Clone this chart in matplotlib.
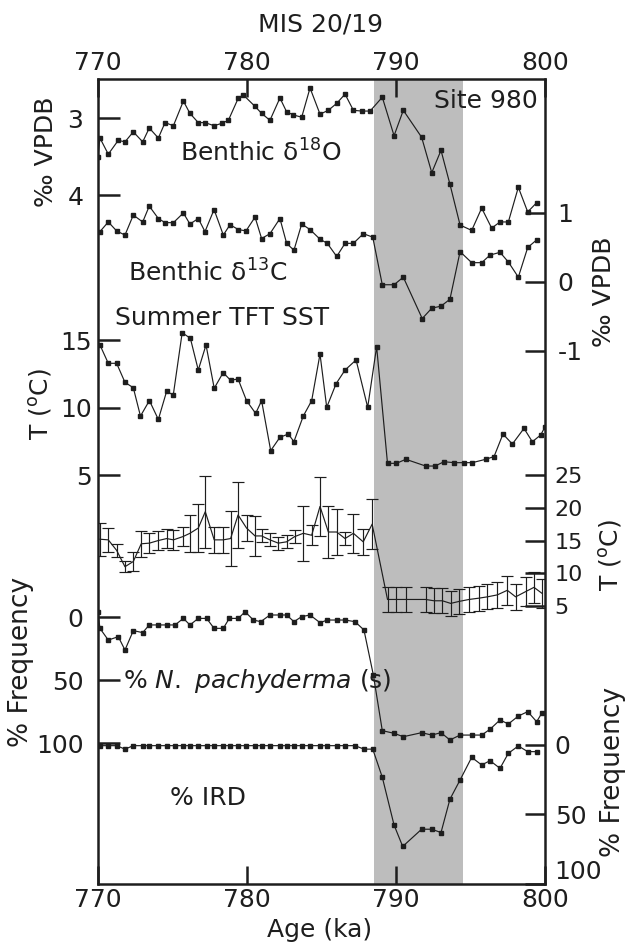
import matplotlib
matplotlib.use('Agg')
import matplotlib.pyplot as plt

plt.rcParams['font.family'] = ['DejaVu Sans']
plt.rcParams['mathtext.fontset'] = 'dejavusans'
plt.rcParams['axes.unicode_minus'] = False

# ---------------- data ----------------
x_ticks = [770, 780, 790, 800]
mis_span = [788.5, 794.5]

d18o_age = [770.0, 770.13, 770.69, 771.36, 771.81, 772.37, 773.0, 773.44, 774.05, 774.5,
            775.06, 775.73, 776.17, 776.73, 777.18, 777.79, 778.3, 778.75, 779.42, 779.75,
            780.54, 780.98, 781.54, 782.21, 782.66, 783.11, 783.67, 784.23, 784.9, 785.46,
            786.02, 786.58, 787.14, 787.7, 788.26, 789.08, 789.87, 790.49, 791.72, 792.4,
            793.02, 793.62, 794.3, 795.08, 795.75, 796.42, 796.98, 797.54, 798.21, 798.84,
            799.44]
d18o = [3.5, 3.26, 3.47, 3.29, 3.31, 3.18, 3.31, 3.13, 3.26, 3.06,
        3.10, 2.78, 2.94, 3.06, 3.06, 3.10, 3.07, 3.03, 2.74, 2.70,
        2.85, 2.94, 3.03, 2.74, 2.92, 2.96, 2.99, 2.61, 2.95, 2.90,
        2.81, 2.69, 2.90, 2.91, 2.91, 2.73, 3.23, 2.90, 3.25, 3.71,
        3.42, 3.86, 4.39, 4.46, 4.17, 4.43, 4.35, 4.35, 3.90, 4.22,
        4.10]

d13c_age = [770.13, 770.69, 771.25, 771.81, 772.37, 773.0, 773.44, 774.05, 774.5, 775.06,
            775.73, 776.17, 776.73, 777.18, 777.79, 778.41, 778.86, 779.42, 779.93, 780.54,
            780.98, 781.54, 782.21, 782.66, 783.15, 783.67, 784.23, 784.9, 785.39, 786.02,
            786.58, 787.14, 787.81, 788.44, 789.08, 789.87, 790.49, 791.76, 792.4, 793.02,
            793.62, 794.3, 795.08, 795.75, 796.31, 796.98, 797.54, 798.21, 798.84, 799.44]
d13c = [0.73, 0.87, 0.74, 0.68, 0.97, 0.87, 1.10, 0.92, 0.86, 0.86,
        1.00, 0.84, 0.92, 0.73, 1.05, 0.68, 0.83, 0.76, 0.74, 0.94,
        0.63, 0.70, 0.92, 0.56, 0.46, 0.84, 0.76, 0.62, 0.56, 0.37,
        0.56, 0.56, 0.70, 0.65, -0.04, -0.04, 0.07, -0.53, -0.38, -0.35,
        -0.25, 0.44, 0.28, 0.28, 0.39, 0.43, 0.29, 0.07, 0.50, 0.61]

sst_age = [770.13, 770.69, 771.25, 771.81, 772.37, 772.85, 773.45, 774.05, 774.61, 775.05,
           775.65, 776.2, 776.73, 777.25, 777.8, 778.4, 778.9, 779.4, 779.97, 780.58,
           780.98, 781.59, 782.21, 782.77, 783.15, 783.78, 784.34, 784.9, 785.35, 785.98,
           786.58, 787.32, 788.1, 788.7, 789.43, 790.03, 790.66, 791.99, 792.62, 793.22,
           793.89, 794.56, 795.12, 796.02, 796.58, 797.18, 797.81, 798.59, 799.15, 799.71,
           800.0]
sst = [14.67, 13.31, 13.31, 11.9, 11.5, 9.4, 10.55, 9.15, 11.25, 10.95,
       15.58, 15.16, 12.81, 14.67, 11.46, 12.62, 12.05, 12.15, 10.54, 9.6,
       10.54, 6.84, 7.83, 8.07, 7.51, 9.41, 10.54, 14.0, 10.05, 11.8,
       12.81, 13.56, 10.05, 14.54, 5.9, 5.9, 6.2, 5.7, 5.7, 6.02,
       5.95, 5.95, 5.95, 6.2, 6.4, 8.07, 7.33, 8.49, 7.5, 8.0,
       8.6]

tft_age = [770.13, 770.69, 771.25, 771.81, 772.37, 772.9, 773.45, 774.05, 774.61, 775.06,
           775.7, 776.17, 776.73, 777.2, 777.8, 778.4, 778.9, 779.4, 779.97, 780.54,
           780.98, 781.54, 782.1, 782.66, 783.2, 783.78, 784.34, 784.9, 785.46, 786.02,
           786.58, 787.14, 787.8, 788.4, 789.43, 789.99, 790.66, 791.99, 792.55, 793.11,
           793.67, 794.23, 794.9, 795.57, 796.13, 796.8, 797.47, 798.03, 798.7, 799.26,
           799.82]
tft = [15.2, 15.1, 13.5, 11.0, 11.8, 14.5, 14.6, 15.0, 15.3, 15.1,
       15.6, 16.1, 16.9, 19.4, 15.1, 15.1, 15.3, 18.9, 16.9, 15.7,
       15.7, 15.1, 14.6, 14.8, 15.6, 16.1, 15.8, 20.2, 16.3, 16.3,
       15.3, 16.1, 14.8, 17.5, 6.0, 6.0, 6.0, 6.0, 5.8, 5.8,
       5.4, 5.7, 6.0, 6.2, 6.4, 6.7, 7.4, 6.4, 7.2, 7.85,
       6.9]
tft_err = [2.5, 1.8, 1.0, 0.8, 1.5, 2.0, 1.5, 1.5, 1.5, 1.5,
           1.5, 2.8, 3.7, 5.5, 2.0, 2.0, 4.2, 5.0, 2.0, 3.0,
           1.0, 1.0, 1.0, 1.0, 1.0, 4.2, 1.5, 4.5, 4.0, 3.5,
           1.0, 3.0, 2.0, 3.8, 1.9, 1.9, 1.9, 1.9, 1.9, 1.9,
           1.9, 1.9, 1.9, 1.9, 1.9, 2.0, 2.2, 2.0, 2.2, 2.4,
           2.2]

pach_age = [770.0, 770.13, 770.69, 771.36, 771.81, 772.37, 773.0, 773.44, 774.05, 774.61, 775.17,
            775.73, 776.17, 776.73, 777.29, 777.79, 778.41, 778.81, 779.42, 779.87, 780.43,
            780.92, 781.54, 782.21, 782.66, 783.15, 783.67, 784.23, 784.9, 785.39, 786.02,
            786.58, 787.25, 787.85, 788.48, 789.08, 789.87, 790.49, 791.72, 792.4, 793.02,
            793.62, 794.3, 795.08, 795.75, 796.31, 796.98, 797.54, 798.21, 798.84, 799.44,
            799.78]
pach = [-4.0, 9.0, 18.3, 15.6, 26.2, 10.8, 12.4, 6.3, 6.3, 6.3, 6.3,
        1.1, 6.3, 1.1, 1.1, 9.0, 9.0, 1.1, 1.1, -4.2, 2.4,
        3.7, -1.6, -1.6, -1.6, 3.7, -0.3, -1.6, 4.5, 2.4, 2.4,
        2.4, 3.7, 10.3, 46.0, 90.2, 92.3, 95.0, 91.8, 93.7, 91.8,
        97.6, 93.7, 93.7, 93.7, 89.1, 81.7, 84.9, 78.6, 75.1, 83.1,
        76.4]

ird_age = [770.13, 770.69, 771.25, 771.81, 772.37, 773.0, 773.44, 774.05, 774.61, 775.17,
           775.73, 776.17, 776.73, 777.29, 777.79, 778.41, 778.86, 779.42, 779.93, 780.54,
           780.98, 781.54, 782.21, 782.66, 783.15, 783.67, 784.23, 784.9, 785.39, 786.02,
           786.58, 787.25, 787.85, 788.44, 789.08, 789.87, 790.45, 791.72, 792.4, 793.02,
           793.62, 794.3, 795.08, 795.75, 796.31, 796.98, 797.54, 798.21, 798.84, 799.44]
ird = [0.5, 0.5, 0.5, 3.0, 0.5, 0.5, 0.5, 0.5, 0.5, 0.5,
       0.5, 0.5, 0.5, 0.5, 0.5, 0.5, 0.5, 0.5, 0.5, 0.5,
       0.5, 0.5, 0.5, 0.5, 0.5, 0.5, 0.5, 0.5, 0.5, 0.5,
       0.5, 0.5, 3.0, 3.0, 23.2, 57.6, 73.0, 60.6, 60.6, 63.0,
       39.0, 25.2, 8.9, 14.4, 11.3, 16.8, 6.0, 0.7, 4.8, 4.8]

# ---------------- figure ----------------
W, H = 635, 946
fig = plt.figure(figsize=(W / 100, H / 100), dpi=100)
L, R, T, B = 98, 545, 79, 884
rect = [L / W, 1 - B / H, (R - L) / W, (B - T) / H]

FS = 18
INK = '#1e1e1e'
line_kw = dict(color=INK, lw=0.85, marker='s', ms=3.4, mfc=INK, mec=INK)
tick_kw = dict(direction='in', width=1.8, color=INK, labelcolor=INK)

ax = fig.add_axes(rect)
ax.set_xlim(770, 800)
ax.axvspan(mis_span[0], mis_span[1], color='#bdbdbd', lw=0, zorder=0)
for s in ax.spines.values():
    s.set_linewidth(1.8)
    s.set_color(INK)
ax.set_xticks(x_ticks)
ax.tick_params(axis='x', length=13, top=True, bottom=True, labeltop=True,
               labelbottom=True, pad=3, labelsize=FS, **tick_kw)
# d18O on main axis (reversed)
ax.set_ylim(12.948, 2.4935)
ax.set_yticks([3, 4])
ax.tick_params(axis='y', length=15.8, left=True, right=False, labelleft=True,
               labelright=False, pad=10.5, labelsize=FS, **tick_kw)
ax.plot(d18o_age, d18o, **line_kw)


def layer(ylim):
    a = fig.add_axes(rect)
    a.set_xlim(770, 800)
    a.set_ylim(*ylim)
    a.patch.set_visible(False)
    for s in a.spines.values():
        s.set_visible(False)
    a.tick_params(axis='x', which='both', bottom=False, top=False,
                  labelbottom=False, labeltop=False)
    return a


# d13C (right axis)
a13 = layer((-8.725, 2.942))
a13.plot(d13c_age, d13c, **line_kw)
a13.set_yticks([-1, 0, 1])
a13.tick_params(axis='y', length=14.4, left=False, right=True, labelleft=False,
                labelright=True, pad=9, labelsize=FS, **tick_kw)

# Summer TFT SST (left)
asst = layer((-25.26, 34.37))
asst.plot(sst_age, sst, **line_kw)
asst.set_yticks([5, 10, 15])
asst.tick_params(axis='y', length=15.8, left=True, right=False, labelleft=True,
                 labelright=False, pad=4.5, labelsize=FS, **tick_kw)

# TFT with error bars (right)
atft = layer((-37.44, 85.46))
atft.errorbar(tft_age, tft, yerr=tft_err, fmt='-', color=INK, lw=0.85,
              elinewidth=0.85, capsize=4, capthick=0.85)
atft.set_yticks([5, 10, 15, 20, 25])
atft.tick_params(axis='y', length=14.4, left=False, right=True, labelleft=False,
                 labelright=True, pad=7, labelsize=16, **tick_kw)

# N. pachyderma (s) (left, reversed)
apa = layer((211.9, -427.0))
apa.plot(pach_age, pach, **line_kw)
apa.set_yticks([0, 50, 100])
apa.tick_params(axis='y', length=15.8, left=True, right=False, labelleft=True,
                labelright=False, pad=10.5, labelsize=FS, **tick_kw)
apa.set_yticks([50], minor=True)
apa.tick_params(axis='y', which='minor', length=14.4, left=False, right=True,
                labelleft=False, labelright=False, **tick_kw)

# IRD (right, reversed)
aird = layer((100.0, -479.0))
aird.plot(ird_age, ird, **line_kw)
aird.set_yticks([0, 50, 100])
aird.tick_params(axis='y', length=14.4, left=False, right=True, labelleft=False,
                 labelright=True, pad=7, labelsize=FS, **tick_kw)
aird.set_yticks([50], minor=True)
aird.tick_params(axis='y', which='minor', length=15.8, left=True, right=False,
                 labelleft=False, labelright=False, **tick_kw)
# the "100" label sits just above the bottom corner
aird.get_yticklabels()[2].set_va('bottom')


def ftxt(px, py, s, **kw):
    kw.setdefault('fontsize', FS)
    kw.setdefault('color', INK)
    fig.text(px / W, 1 - py / H, s, **kw)


# in-plot labels
ftxt(538, 101, 'Site 980', ha='right', va='center')
ftxt(180, 162, r'Benthic δ$^{18}$O', ha='left', va='baseline')
ftxt(128, 282, r'Benthic δ$^{13}$C', ha='left', va='baseline')
ftxt(115, 325, 'Summer TFT SST', ha='left', va='baseline')
ftxt(123, 688, r'% $\mathit{N.\ pachyderma}$ (s)', ha='left', va='baseline')
ftxt(170, 805, '% IRD', ha='left', va='baseline')

# axis labels
ftxt(320, 25, 'MIS 20/19', ha='center', va='center')
ftxt(320, 930, 'Age (ka)', ha='center', va='center')
ftxt(46, 152, '‰ VPDB', ha='center', va='center', rotation=90)
ftxt(604, 292, '‰ VPDB', ha='center', va='center', rotation=90)
ftxt(40, 404, r'T ($^{\mathrm{o}}$C)', ha='center', va='center', rotation=90)
ftxt(610, 555, r'T ($^{\mathrm{o}}$C)', ha='center', va='center', rotation=90)
ftxt(21, 662, '% Frequency', ha='center', va='center', rotation=90, fontsize=19)
ftxt(613, 772, '% Frequency', ha='center', va='center', rotation=90, fontsize=19)

fig.savefig('out.png', dpi=100)
